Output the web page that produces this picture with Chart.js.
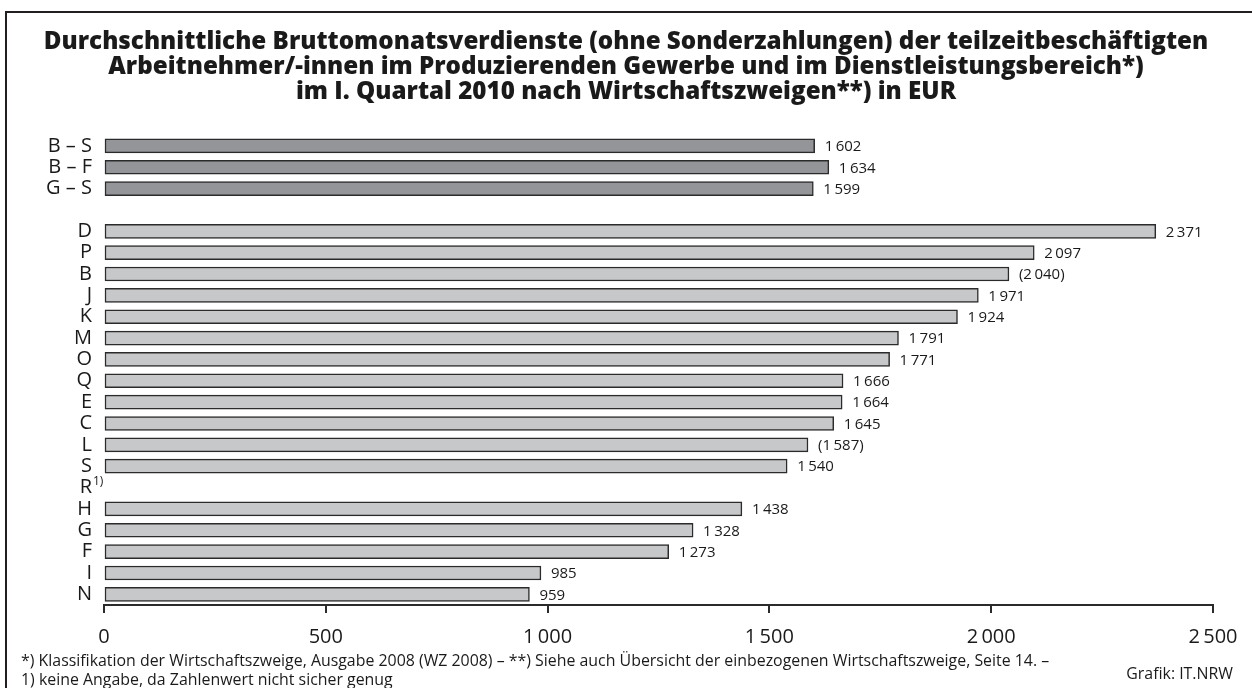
<!DOCTYPE html>
<html>
<head>
<meta charset="utf-8">
<script src="https://cdn.jsdelivr.net/npm/chart.js@4/dist/chart.umd.min.js"></script>
<style>
  html, body { margin: 0; padding: 0; background: #fff; }
  body { width: 1252px; height: 688px; position: relative; overflow: hidden; font-family: 'Open Sans', sans-serif; color: #1a1a1a; }
  #frame { position: absolute; left: 5px; top: 11px; width: 1400px; height: 800px; border-left: 2.5px solid #231f20; border-top: 2.5px solid #231f20; }
  #wrap { position: absolute; left: 0; top: 0; width: 1252px; height: 688px; }
  .fn { position: absolute; font-size: 15.9px; line-height: 20px; white-space: nowrap; color: #1a1a1a; }
</style>
</head>
<body>
<div id="frame"></div>
<div id="wrap"><canvas id="c" width="1252" height="688"></canvas></div>
<div class="fn" style="left:21px; top:650px;">*) Klassifikation der Wirtschaftszweige, Ausgabe 2008 (WZ 2008) – **) Siehe auch Übersicht der einbezogenen Wirtschaftszweige, Seite 14. –</div>
<div class="fn" style="left:21px; top:669px;">1) keine Angabe, da Zahlenwert nicht sicher genug</div>
<div class="fn" style="right:19px; top:663px;">Grafik: IT.NRW</div>
<script>
const categories = ['B – S', 'B – F', 'G – S', '', 'D', 'P', 'B', 'J', 'K', 'M', 'O', 'Q', 'E', 'C', 'L', 'S', 'R', 'H', 'G', 'F', 'I', 'N'];
const values = [1602, 1634, 1599, null, 2371, 2097, 2040, 1971, 1924, 1791, 1771, 1666, 1664, 1645, 1587, 1540, null, 1438, 1328, 1273, 985, 959];
const bracketed = [false, false, false, false, false, false, true, false, false, false, false, false, false, false, true, false, false, false, false, false, false, false];
const isTotal = [true, true, true, false, false, false, false, false, false, false, false, false, false, false, false, false, false, false, false, false, false, false];
const footnoteCategory = 'R';
const xTicks = [0, 500, 1000, 1500, 2000, 2500];
const titleLines = [
  'Durchschnittliche Bruttomonatsverdienste (ohne Sonderzahlungen) der teilzeitbeschäftigten',
  'Arbeitnehmer/-innen im Produzierenden Gewerbe und im Dienstleistungsbereich*)',
  'im I. Quartal 2010 nach Wirtschaftszweigen**) in EUR'
];

const FONT = "'Open Sans', sans-serif";
const fmt = (v, sep) => {
  const s = String(Math.round(v));
  return s.replace(/\B(?=(\d{3})+(?!\d))/g, sep || '\u2009');
};

const valueLabels = {
  id: 'valueLabels',
  afterDatasetsDraw(chart) {
    const ctx = chart.ctx;
    const meta = chart.getDatasetMeta(0);
    ctx.save();
    ctx.font = '15px ' + FONT;
    ctx.fillStyle = '#1a1a1a';
    ctx.textAlign = 'left';
    ctx.textBaseline = 'middle';
    meta.data.forEach((bar, i) => {
      const v = values[i];
      if (v === null || v === undefined) return;
      let t = fmt(v);
      if (bracketed[i]) t = '(' + t + ')';
      ctx.fillText(t, bar.x + 10, bar.y + 1);
    });
    const ys = chart.scales.y;
    const idx = categories.indexOf(footnoteCategory);
    if (idx >= 0) {
      const y = ys.getPixelForValue(idx);
      ctx.font = '12px ' + FONT;
      ctx.fillText('1)', ys.right - 11, y - 6);
    }
    ctx.restore();
  }
};

new Chart(document.getElementById('c'), {
  type: 'bar',
  data: {
    labels: categories,
    datasets: [{
      data: values,
      backgroundColor: isTotal.map(t => t ? '#939598' : '#c7c8ca'),
      borderColor: '#2b2b2b',
      borderWidth: 1.5,
      borderSkipped: false,
      barThickness: 14
    }]
  },
  options: {
    indexAxis: 'y',
    responsive: false,
    animation: false,
    devicePixelRatio: 1,
    layout: { padding: { top: 29, right: 39, bottom: 0, left: 39 } },
    plugins: {
      legend: { display: false },
      tooltip: { enabled: false },
      title: {
        display: true,
        text: titleLines,
        color: '#1a1a1a',
        font: { family: FONT, size: 24.2, weight: 800, lineHeight: 1.05 },
        padding: { top: 0, bottom: 30 }
      }
    },
    scales: {
      x: {
        min: 0, max: 2500,
        afterBuildTicks: s => { s.ticks = xTicks.map(v => ({ value: v })); },
        afterFit: s => { s.height = 83; },
        border: { display: true, color: '#2b2b2b', width: 2 },
        grid: { drawOnChartArea: false, drawTicks: true, tickLength: 8, color: '#2b2b2b', lineWidth: 2 },
        ticks: {
          autoSkip: false, maxRotation: 0, padding: 12,
          color: '#1a1a1a',
          font: { family: FONT, size: 20 },
          callback: v => fmt(v, '\u2009')
        }
      },
      y: {
        afterFit: s => { s.width = 65; },
        border: { display: false },
        grid: { display: false, drawTicks: false },
        ticks: {
          autoSkip: false, padding: 12,
          color: '#1a1a1a',
          font: { family: FONT, size: 20 }
        }
      }
    }
  },
  plugins: [valueLabels]
});
</script>
</body>
</html>
